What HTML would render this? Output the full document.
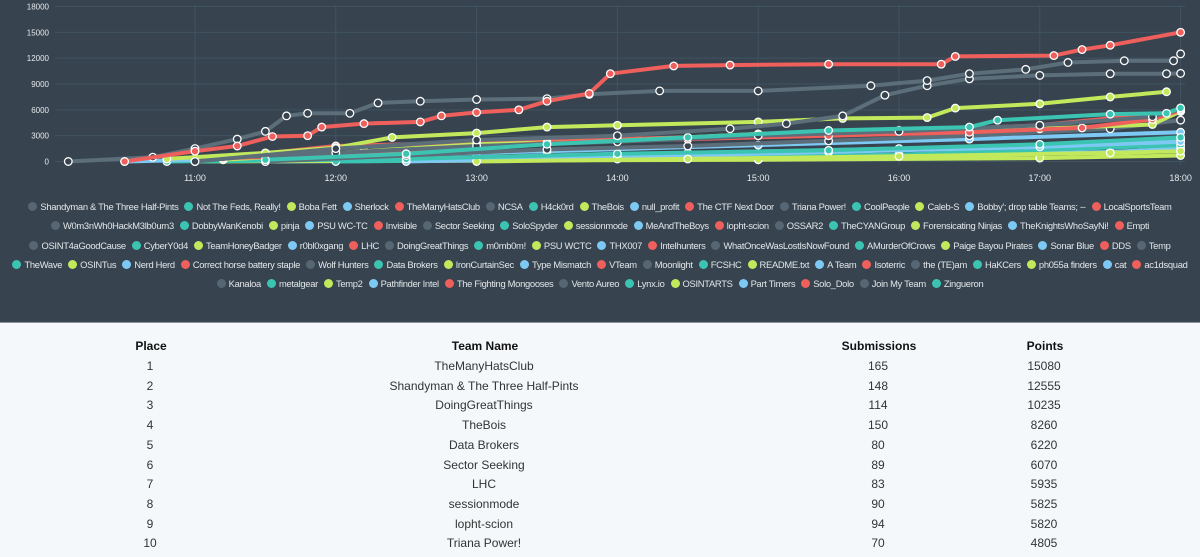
<!DOCTYPE html>
<html><head><meta charset="utf-8">
<style>
body{margin:0;width:1200px;height:557px;overflow:hidden;background:#f4f8fb;font-family:"Liberation Sans",sans-serif}
#top{position:absolute;left:0;top:0;width:1200px;height:322px;background:#37444f;border-bottom:1px solid #8a949c;overflow:hidden}
#chart{position:absolute;left:0;top:0}
#legend{position:absolute;left:0;top:197px;width:1200px}
.lrow{display:flex;justify-content:center;height:19.3px;align-items:center;font-size:9.4px;letter-spacing:-0.3px;color:#e2e6ea;white-space:nowrap}
.li{display:flex;align-items:center;margin:0 3px}
.dot{width:9px;height:9px;border-radius:50%;margin-right:3px}
table{position:absolute;top:338px;left:0;width:1200px;border-collapse:collapse;font-size:12px;color:#333}
th{font-weight:bold;color:#111;height:19px;font-size:12px}
td{height:19.7px;text-align:center;padding:0}
</style></head><body>
<div id="top">
<svg id="chart" width="1200" height="195"></svg>
<div id="legend"></div>
</div>
<table>
<thead><tr>
<th style="position:absolute;left:120px;width:60px">Place</th>
<th style="position:absolute;left:384px;width:200px">Team Name</th>
<th style="position:absolute;left:818px;width:120px">Submissions</th>
<th style="position:absolute;left:1004px;width:80px">Points</th>
</tr></thead>
<tbody id="tb"></tbody>
</table>
<script>
const legendNames=[
["Shandyman & The Three Half-Pints","Not The Feds, Really!","Boba Fett","Sherlock","TheManyHatsClub","NCSA","H4ck0rd","TheBois","null_profit","The CTF Next Door","Triana Power!","CoolPeople","Caleb-S","Bobby'; drop table Teams; --","LocalSportsTeam"],
["W0m3nWh0HackM3lb0urn3","DobbyWanKenobi","pinja","PSU WC-TC","Invisible","Sector Seeking","SoloSpyder","sessionmode","MeAndTheBoys","lopht-scion","OSSAR2","TheCYANGroup","Forensicating Ninjas","TheKnightsWhoSayNi!","Empti"],
["OSINT4aGoodCause","CyberY0d4","TeamHoneyBadger","r0bl0xgang","LHC","DoingGreatThings","m0mb0m!","PSU WCTC","THX007","Intelhunters","WhatOnceWasLostIsNowFound","AMurderOfCrows","Paige Bayou Pirates","Sonar Blue","DDS","Temp"],
["TheWave","OSINTus","Nerd Herd","Correct horse battery staple","Wolf Hunters","Data Brokers","IronCurtainSec","Type Mismatch","VTeam","Moonlight","FCSHC","README.txt","A Team","Isoterric","the (TE)am","HaKCers","ph055a finders","cat","ac1dsquad"],
["Kanaloa","metalgear","Temp2","Pathfinder Intel","The Fighting Mongooses","Vento Aureo","Lynx.io","OSINTARTS","Part Timers","Solo_Dolo","Join My Team","Zingueron"]];
const palette=["#566773","#3cc4b2","#c2e85c","#7dc9f3","#ef5f5c"];
const places=[1,2,3,4,5,6,7,8,9,10];
const teams=["TheManyHatsClub","Shandyman & The Three Half-Pints","DoingGreatThings","TheBois","Data Brokers","Sector Seeking","LHC","sessionmode","lopht-scion","Triana Power!"];
const submissions=[165,148,114,150,80,89,83,90,94,70];
const points=[15080,12555,10235,8260,6220,6070,5935,5825,5820,4805];

const sTMHC_t=[10.5,11.0,11.3,11.55,11.8,11.9,12.2,12.6,12.75,13.0,13.3,13.5,13.8,13.95,14.4,14.8,15.5,16.3,16.4,17.1,17.3,17.5,18.0];
const sTMHC_v=[0,1200,1800,2900,3000,4000,4400,4600,5300,5700,6000,7000,7900,10200,11100,11200,11300,11300,12200,12300,13000,13500,15000];
const sShandy_t=[10.1,10.7,11.0,11.3,11.5,11.65,11.8,12.1,12.3,12.6,13.0,13.5,13.8,14.3,15.0,15.8,16.2,16.5,16.9,17.2,17.6,17.95,18.0];
const sShandy_v=[0,500,1500,2600,3500,5300,5600,5600,6800,7000,7200,7300,7800,8200,8200,8800,9400,10200,10700,11500,11700,11700,12500];
const sDGT_t=[11.0,12.0,13.0,14.0,14.8,15.2,15.6,15.9,16.2,16.5,17.0,17.5,17.9,18.0];
const sDGT_v=[0,1500,2500,3000,3800,4400,5300,7700,8800,9600,10000,10200,10200,10235];
const sBois_t=[10.8,11.5,12.0,12.4,13.0,13.5,14.0,15.0,15.6,16.2,16.4,17.0,17.5,17.9];
const sBois_v=[300,1000,1600,2800,3300,4000,4200,4600,5000,5100,6200,6700,7500,8100];
const sData_t=[11.5,12.5,13.5,14.5,15.5,16.5,16.7,17.5,17.9,18.0];
const sData_v=[200,900,2000,2800,3600,4000,4800,5500,5600,6220];
const sSector_t=[11.0,12.0,13.0,14.0,15.0,16.0,17.0,17.8,18.0];
const sSector_v=[300,1000,1800,2300,3000,3500,4200,5200,6070];
const sLHC_t=[11.2,12.5,13.5,14.5,15.5,16.5,17.3,17.8,18.0];
const sLHC_v=[400,1000,2200,2600,3000,3400,3900,4900,5935];
const sSess_t=[11.2,12.2,13.0,14.0,15.0,16.0,17.0,17.8,18.0];
const sSess_v=[200,1200,2000,2400,3200,3600,3800,4300,5825];
const sLopht_t=[11.0,12.0,13.0,14.0,15.0,16.0,17.0,18.0];
const sLopht_v=[100,1800,2200,2600,3000,3500,4200,5820];
const sTriana_t=[11.5,12.5,13.5,14.5,15.5,16.5,17.5,18.0];
const sTriana_v=[0,700,1400,1800,2400,3000,3800,4805];
const sA_t=[10.5,12.0,13.5,15.0,16.5,18.0];
const sA_v=[0,600,1200,1900,2600,3400];
const sB_t=[11.0,12.5,14.0,15.5,17.0,18.0];
const sB_v=[0,300,900,1300,2000,2800];
const sC_t=[10.8,12.0,13.0,14.5,16.0,17.5,18.0];
const sC_v=[0,200,500,1000,1500,2100,2500];
const sD_t=[11.5,13.0,14.5,16.0,17.5,18.0];
const sD_v=[0,100,400,700,1100,1500];
const sE_t=[11.0,13.0,15.0,17.0,18.0];
const sE_v=[0,100,200,400,700];
const sF_t=[12.0,14.0,16.0,18.0];
const sF_v=[0,300,800,1900];
const sG_t=[12.5,14.0,15.5,17.0,18.0];
const sG_v=[0,500,1100,1700,2300];
const sH_t=[13.0,14.5,16.0,17.5,18.0];
const sH_v=[0,300,600,1000,1200];
const seriesList=[
 [sC_t,sC_v,1],[sD_t,sD_v,3],[sE_t,sE_v,2],[sF_t,sF_v,1],[sG_t,sG_v,3],[sH_t,sH_v,2],
 [sA_t,sA_v,3],[sB_t,sB_v,1],[sTriana_t,sTriana_v,0],[sLopht_t,sLopht_v,4],[sSess_t,sSess_v,2],
 [sLHC_t,sLHC_v,4],[sSector_t,sSector_v,0],[sData_t,sData_v,1],[sBois_t,sBois_v,2],
 [sDGT_t,sDGT_v,0],[sShandy_t,sShandy_v,0],[sTMHC_t,sTMHC_v,4]];
const yTicks=[0,3000,6000,9000,12000,15000,18000];
const xTicks=[11,12,13,14,15,16,17,18];

const NS="http://www.w3.org/2000/svg";
const svg=document.getElementById('chart');
const X=h=>195+(h-11)*140.8;
const Y=v=>161.5-v/18000*155;
function mk(tag,attrs){const e=document.createElementNS(NS,tag);for(const k in attrs)e.setAttribute(k,attrs[k]);svg.appendChild(e);return e;}
yTicks.forEach(v=>{
 const g=mk('line',{x1:55,x2:1185,y1:Y(v),y2:Y(v),stroke:'#415260','stroke-width':1});
 
 
 const t=mk('text',{x:49,y:Y(v)+3,'text-anchor':'end','font-size':8,fill:'#e6e9ec','font-family':'Liberation Sans, sans-serif'});
 t.textContent=v;
 
 
});
xTicks.forEach(h=>{
 const g=mk('line',{x1:X(h),x2:X(h),y1:5,y2:165,stroke:'#415260','stroke-width':1});
 
 
 const t=mk('text',{x:X(h),y:181,'text-anchor':'middle','font-size':9,fill:'#e6e9ec','font-family':'Liberation Sans, sans-serif'});
 t.textContent=h+':00';
 
 
});
seriesList.forEach(([ts,vs,ci])=>{
 const col=palette[ci];
 const d=ts.map((t,i)=>(i?'L':'M')+X(t).toFixed(1)+','+Y(vs[i]).toFixed(1)).join(' ');
 const p=mk('path',{d:d,fill:'none',stroke:ci===0?'#5b6e79':col,'stroke-width':4,'stroke-linejoin':'round'});
 
 
 ts.forEach((t,i)=>{
  const c=mk('circle',{cx:X(t),cy:Y(vs[i]),r:3.8,fill:ci===0?'#37444f':col,stroke:'#fff','stroke-width':1.3});
  
  
 });
});
const lg=document.getElementById('legend');
let idx=0;
legendNames.forEach(row=>{
 const r=document.createElement('div');r.className='lrow';
 
 
 row.forEach(n=>{
  const it=document.createElement('div');it.className='li';
  
  
  const d=document.createElement('span');d.className='dot';d.style.background=palette[idx%5];
  it.appendChild(d);it.appendChild(document.createTextNode(n));r.appendChild(it);idx++;
 });
 lg.appendChild(r);
});
const tb=document.getElementById('tb');
places.forEach((p,i)=>{
 const tr=document.createElement('tr');
 
 
 tr.innerHTML=`<td style="position:absolute;left:120px;width:60px;top:${21+i*19.7}px">${p}</td><td style="position:absolute;left:284px;width:400px;top:${21+i*19.7}px"></td><td style="position:absolute;left:818px;width:120px;top:${21+i*19.7}px">${submissions[i]}</td><td style="position:absolute;left:1004px;width:80px;top:${21+i*19.7}px">${points[i]}</td>`;
 tr.children[1].textContent=teams[i];
 tb.appendChild(tr);
});
</script>
</body></html>
